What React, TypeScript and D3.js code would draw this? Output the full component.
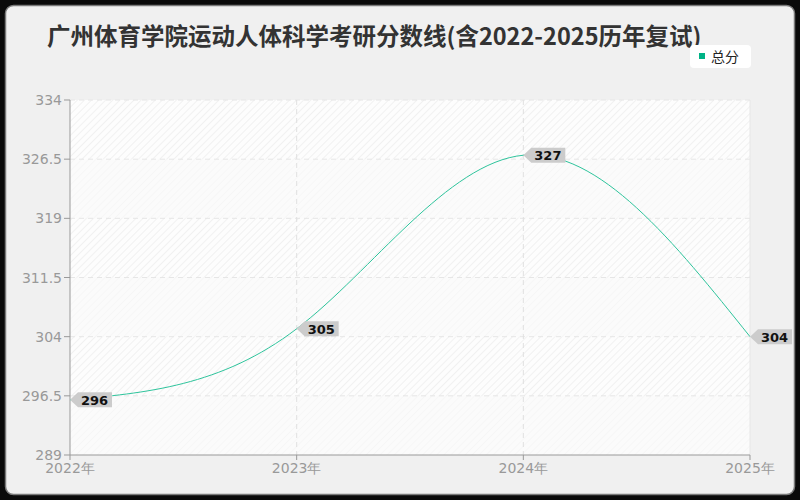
import React from "react";
import * as d3 from "d3";

const years = ["2022年", "2023年", "2024年", "2025年"];
const scores = [296, 305, 327, 304];
const yTicks = [289, 296.5, 304, 311.5, 319, 326.5, 334];
const seriesName = "总分";
const title = "广州体育学院运动人体科学考研分数线(含2022-2025历年复试)";

const W = 800, H = 500;
const M = { left: 70, right: 750, top: 100, bottom: 455 };
const FONT = "'Noto Sans CJK SC', 'Noto Sans', sans-serif";
const SANS = "'DejaVu Sans', 'Noto Sans', sans-serif";

export default function App() {
  const x = d3.scalePoint<string>().domain(years).range([M.left, M.right]);
  const y = d3.scaleLinear().domain([289, 334]).range([M.bottom, M.top]);
  const pts = scores.map((s, i) => [x(years[i]) as number, y(s)] as [number, number]);
  const line = d3.line().curve(d3.curveNatural);

  const bands = yTicks.slice(0, -1).map((t, i) => ({ lo: t, hi: yTicks[i + 1], i }));

  return (
    <div style={{ position: "absolute", left: 0, top: 0 }}>
      <svg width={W} height={H} style={{ display: "block" }}>
        <defs>
          <pattern id="hatch" width="5" height="5" patternUnits="userSpaceOnUse" patternTransform="rotate(45)">
            <rect width="5" height="5" fill="#fdfdfd" />
            <line x1="0" y1="0" x2="0" y2="5" stroke="#ebebeb" strokeWidth="1.3" />
          </pattern>
        </defs>
        <rect x={0} y={0} width={W} height={H} fill="#0a0a0a" />
        <rect x={5.5} y={5.5} width={789} height={489} rx={8} fill="#f0f0f0" stroke="#7a7a7a" strokeWidth={1.5} />
        <text x={47} y={45} fontFamily={FONT} fontSize={23.5} fontWeight={700} fill="#333">
          {title}
        </text>
        {/* legend */}
        <rect x={690} y={45} width={61} height={23} rx={4} fill="#ffffff" />
        <rect x={699} y={53} width={6} height={6} fill="#00b386" />
        <text x={711} y={61.5} fontFamily={FONT} fontSize={14} fill="#222">
          {seriesName}
        </text>
        {/* plot background */}
        <rect x={M.left} y={M.top} width={M.right - M.left} height={M.bottom - M.top} fill="url(#hatch)" />
        {bands.map((b) =>
          b.i % 2 === 0 ? (
            <rect
              key={b.i}
              x={M.left}
              y={y(b.hi)}
              width={M.right - M.left}
              height={y(b.lo) - y(b.hi)}
              fill="#fafafa"
              opacity={0.6}
            />
          ) : null
        )}
        {/* grid */}
        {yTicks.slice(1).map((t) => (
          <line key={t} x1={M.left} x2={M.right} y1={y(t)} y2={y(t)} stroke="#e6e6e6" strokeDasharray="5,4" />
        ))}
        {years.slice(1, -1).map((yr) => (
          <line key={yr} x1={x(yr)} x2={x(yr)} y1={M.top} y2={M.bottom} stroke="#e0e0e0" strokeDasharray="5,4" />
        ))}
        <line x1={M.right} x2={M.right} y1={M.top} y2={M.bottom} stroke="#e6e6e6" />
        {/* axes */}
        <line x1={M.left} x2={M.left} y1={M.top} y2={M.bottom} stroke="#999" />
        <line x1={M.left} x2={M.right} y1={M.bottom} y2={M.bottom} stroke="#999" />
        {yTicks.map((t) => (
          <g key={t}>
            <line x1={M.left - 6} x2={M.left} y1={y(t)} y2={y(t)} stroke="#999" />
            <text x={M.left - 8} y={y(t) + 5} textAnchor="end" fontFamily={SANS} fontSize={14} fill="#999">
              {t}
            </text>
          </g>
        ))}
        {years.map((yr) => (
          <g key={yr}>
            <line x1={x(yr)} x2={x(yr)} y1={M.bottom} y2={M.bottom + 5} stroke="#999" />
            <text x={x(yr)} y={M.bottom + 18} textAnchor="middle" fontFamily={SANS} fontSize={14} fill="#999">
              {yr}
            </text>
          </g>
        ))}
        {/* line */}
        <path d={line(pts) || ""} fill="none" stroke="#2ec49c" strokeWidth={1} />
        {/* labels */}
        {scores.map((s, i) => {
          const [px, py] = pts[i];
          const bx = px + 8;
          const bw = 34;
          const h = 15;
          return (
            <g key={i}>
              <path
                d={`M${px},${py} L${bx},${py - h / 2} L${bx + bw},${py - h / 2} L${bx + bw},${py + h / 2} L${bx},${py + h / 2} Z`}
                fill="#cccccc"
              />
              <text x={bx + 3} y={py + 5} fontFamily={SANS} fontSize={13} fontWeight={700} fill="#111">
                {s}
              </text>
            </g>
          );
        })}
      </svg>
    </div>
  );
}
